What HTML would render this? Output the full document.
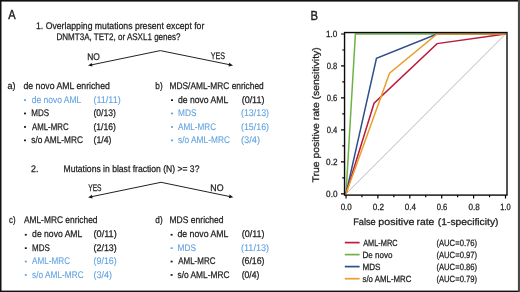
<!DOCTYPE html>
<html>
<head>
<meta charset="utf-8">
<style>
html,body{margin:0;padding:0;background:#fff;}
body{width:520px;height:292px;overflow:hidden;position:relative;}
svg{position:absolute;left:0;top:0;display:block;will-change:transform;}
text{font-family:"Liberation Sans", sans-serif;text-rendering:geometricPrecision;}
</style>
</head>
<body>
<svg width="520" height="292" viewBox="0 0 520 292">
<rect x="0" y="0" width="520" height="292" fill="#fff"/>
<g id="shapes">
<rect x="0" y="0" width="520" height="1.6" fill="#111"/>
<rect x="0" y="290.6" width="520" height="1.4" fill="#111"/>
<rect x="0" y="0" width="1.5" height="292" fill="#111"/>
<rect x="517.9" y="0" width="2.1" height="292" fill="#494949"/>
<polyline points="91.13,64.95 160.3,50.6 229.86,64.76" stroke="#222" stroke-width="1" fill="none"/>
<polygon points="88.00,65.60 91.73,62.89 92.50,66.61" fill="#1a1a1a"/>
<polygon points="233.00,65.40 228.51,66.42 229.26,62.70" fill="#1a1a1a"/>
<polyline points="91.23,196.75 161.0,182.3 230.17,196.65" stroke="#222" stroke-width="1" fill="none"/>
<polygon points="88.10,197.40 91.83,194.69 92.60,198.41" fill="#1a1a1a"/>
<polygon points="233.30,197.30 228.80,198.31 229.57,194.59" fill="#1a1a1a"/>
<rect x="24.00" y="99.30" width="2.0" height="1.7" fill="#62a3e0"/>
<rect x="24.00" y="112.60" width="2.0" height="1.7" fill="#1c1c1c"/>
<rect x="24.00" y="126.10" width="2.0" height="1.7" fill="#1c1c1c"/>
<rect x="24.00" y="139.50" width="2.0" height="1.7" fill="#1c1c1c"/>
<rect x="171.00" y="99.30" width="2.0" height="1.7" fill="#1c1c1c"/>
<rect x="171.00" y="112.60" width="2.0" height="1.7" fill="#62a3e0"/>
<rect x="171.00" y="126.10" width="2.0" height="1.7" fill="#62a3e0"/>
<rect x="171.00" y="139.50" width="2.0" height="1.7" fill="#62a3e0"/>
<rect x="24.80" y="233.90" width="2.0" height="1.7" fill="#1c1c1c"/>
<rect x="24.80" y="247.30" width="2.0" height="1.7" fill="#1c1c1c"/>
<rect x="24.80" y="260.70" width="2.0" height="1.7" fill="#62a3e0"/>
<rect x="24.80" y="274.10" width="2.0" height="1.7" fill="#62a3e0"/>
<rect x="170.60" y="233.90" width="2.0" height="1.7" fill="#1c1c1c"/>
<rect x="170.60" y="247.30" width="2.0" height="1.7" fill="#62a3e0"/>
<rect x="170.60" y="260.70" width="2.0" height="1.7" fill="#1c1c1c"/>
<rect x="170.60" y="274.10" width="2.0" height="1.7" fill="#1c1c1c"/>
<g fill="none" stroke-width="1.5">
<line x1="346.0" y1="193.8" x2="505.5" y2="34.0" stroke="#b8b8b8" stroke-width="1"/>
<polyline points="346.00,193.80 355.41,34.00 505.50,34.00" stroke="#6bb344"/>
<polyline points="346.00,193.80 376.46,58.29 437.07,34.00 505.50,34.00" stroke="#2f4f8c"/>
<polyline points="346.00,193.80 374.07,103.19 437.07,43.59 505.50,34.00" stroke="#b81c3e"/>
<polyline points="346.00,193.80 389.54,73.15 437.07,34.00 505.50,34.00" stroke="#eb9f2a"/>
<rect x="344.55" y="32.55" width="162.45" height="162.55" stroke="#0a0a0a" stroke-width="1.4" fill="none"/>
<path d="M341.00,193.80H344.4 M342.30,177.82H344.4 M341.00,161.84H344.4 M342.30,145.86H344.4 M341.00,129.88H344.4 M342.30,113.90H344.4 M341.00,97.92H344.4 M342.30,81.94H344.4 M341.00,65.96H344.4 M342.30,49.98H344.4 M341.00,34.00H344.4 M346.00,195.1V198.50 M361.95,195.1V197.30 M377.90,195.1V198.50 M393.85,195.1V197.30 M409.80,195.1V198.50 M425.75,195.1V197.30 M441.70,195.1V198.50 M457.65,195.1V197.30 M473.60,195.1V198.50 M489.55,195.1V197.30 M505.50,195.1V198.50" stroke="#000" stroke-width="1.2" fill="none"/>
<g stroke-width="1.7">
<line x1="344.8" y1="242.6" x2="359.6" y2="242.6" stroke="#b81c3e"/>
<line x1="344.8" y1="254.6" x2="359.6" y2="254.6" stroke="#6bb344"/>
<line x1="344.8" y1="266.6" x2="359.6" y2="266.6" stroke="#2f4f8c"/>
<line x1="344.8" y1="278.7" x2="359.6" y2="278.7" stroke="#eb9f2a"/>
</g>
</g>
</g>
<g id="texts">
<text id="t_A" x="8.35" y="19.10" font-size="13" fill="#1c1c1c" stroke="#1c1c1c" stroke-width="0.4" textLength="7.37" lengthAdjust="spacingAndGlyphs">A</text>
<text id="t_l1" x="36.04" y="28.60" font-size="9.6" fill="#1c1c1c" stroke="#1c1c1c" stroke-width="0.25" textLength="168.30" lengthAdjust="spacingAndGlyphs">1. Overlapping mutations present except for</text>
<text id="t_l2" x="56.50" y="39.60" font-size="9.6" fill="#1c1c1c" stroke="#1c1c1c" stroke-width="0.25" textLength="124.00" lengthAdjust="spacingAndGlyphs">DNMT3A, TET2, or ASXL1 genes?</text>
<text id="t_no1" x="87.27" y="59.80" font-size="9.6" fill="#1c1c1c" stroke="#1c1c1c" stroke-width="0.25" textLength="12.61" lengthAdjust="spacingAndGlyphs">NO</text>
<text id="t_yes1" x="210.66" y="58.80" font-size="9.6" fill="#1c1c1c" stroke="#1c1c1c" stroke-width="0.25" textLength="14.30" lengthAdjust="spacingAndGlyphs">YES</text>
<text id="t_a" x="7.50" y="88.90" font-size="9.6" fill="#1c1c1c" stroke="#1c1c1c" stroke-width="0.25" textLength="8.00" lengthAdjust="spacingAndGlyphs">a)</text>
<text id="t_ah" x="23.50" y="88.90" font-size="9.6" fill="#1c1c1c" stroke="#1c1c1c" stroke-width="0.25" textLength="86.38" lengthAdjust="spacingAndGlyphs">de novo AML enriched</text>
<text id="t_a1" x="31.66" y="102.80" font-size="9.6" fill="#62a3e0" stroke="#62a3e0" stroke-width="0.1" textLength="49.68" lengthAdjust="spacingAndGlyphs">de novo AML</text>
<text id="t_a1n" x="93.50" y="102.80" font-size="9.6" fill="#62a3e0" stroke="#62a3e0" stroke-width="0.1" textLength="27.15" lengthAdjust="spacingAndGlyphs">(11/11)</text>
<text id="t_a2" x="31.27" y="116.10" font-size="9.6" fill="#1c1c1c" stroke="#1c1c1c" stroke-width="0.25" textLength="17.84" lengthAdjust="spacingAndGlyphs">MDS</text>
<text id="t_a2n" x="93.50" y="116.10" font-size="9.6" fill="#1c1c1c" stroke="#1c1c1c" stroke-width="0.25" textLength="22.38" lengthAdjust="spacingAndGlyphs">(0/13)</text>
<text id="t_a3" x="31.97" y="129.60" font-size="9.6" fill="#1c1c1c" stroke="#1c1c1c" stroke-width="0.25" textLength="36.60" lengthAdjust="spacingAndGlyphs">AML-MRC</text>
<text id="t_a3n" x="93.50" y="129.60" font-size="9.6" fill="#1c1c1c" stroke="#1c1c1c" stroke-width="0.25" textLength="22.38" lengthAdjust="spacingAndGlyphs">(1/16)</text>
<text id="t_a4" x="31.27" y="143.00" font-size="9.6" fill="#1c1c1c" stroke="#1c1c1c" stroke-width="0.25" textLength="51.69" lengthAdjust="spacingAndGlyphs">s/o AML-MRC</text>
<text id="t_a4n" x="93.50" y="143.00" font-size="9.6" fill="#1c1c1c" stroke="#1c1c1c" stroke-width="0.25" textLength="17.92" lengthAdjust="spacingAndGlyphs">(1/4)</text>
<text id="t_b" x="155.35" y="88.90" font-size="9.6" fill="#1c1c1c" stroke="#1c1c1c" stroke-width="0.25" textLength="7.30" lengthAdjust="spacingAndGlyphs">b)</text>
<text id="t_bh" x="169.50" y="88.90" font-size="9.6" fill="#1c1c1c" stroke="#1c1c1c" stroke-width="0.25" textLength="94.22" lengthAdjust="spacingAndGlyphs">MDS/AML-MRC enriched</text>
<text id="t_b1" x="178.04" y="102.80" font-size="9.6" fill="#1c1c1c" stroke="#1c1c1c" stroke-width="0.25" textLength="50.22" lengthAdjust="spacingAndGlyphs">de novo AML</text>
<text id="t_b1n" x="241.66" y="102.80" font-size="9.6" fill="#1c1c1c" stroke="#1c1c1c" stroke-width="0.25" textLength="22.76" lengthAdjust="spacingAndGlyphs">(0/11)</text>
<text id="t_b2" x="178.04" y="116.10" font-size="9.6" fill="#62a3e0" stroke="#62a3e0" stroke-width="0.1" textLength="18.46" lengthAdjust="spacingAndGlyphs">MDS</text>
<text id="t_b2n" x="240.96" y="116.10" font-size="9.6" fill="#62a3e0" stroke="#62a3e0" stroke-width="0.1" textLength="28.08" lengthAdjust="spacingAndGlyphs">(13/13)</text>
<text id="t_b3" x="178.04" y="129.60" font-size="9.6" fill="#62a3e0" stroke="#62a3e0" stroke-width="0.1" textLength="38.00" lengthAdjust="spacingAndGlyphs">AML-MRC</text>
<text id="t_b3n" x="240.96" y="129.60" font-size="9.6" fill="#62a3e0" stroke="#62a3e0" stroke-width="0.1" textLength="28.08" lengthAdjust="spacingAndGlyphs">(15/16)</text>
<text id="t_b4" x="178.04" y="143.00" font-size="9.6" fill="#62a3e0" stroke="#62a3e0" stroke-width="0.1" textLength="51.92" lengthAdjust="spacingAndGlyphs">s/o AML-MRC</text>
<text id="t_b4n" x="240.96" y="143.00" font-size="9.6" fill="#62a3e0" stroke="#62a3e0" stroke-width="0.1" textLength="19.08" lengthAdjust="spacingAndGlyphs">(3/4)</text>
<text id="t_two" x="31.12" y="172.00" font-size="9.6" fill="#1c1c1c" stroke="#1c1c1c" stroke-width="0.25" textLength="7.38" lengthAdjust="spacingAndGlyphs">2.</text>
<text id="t_l3" x="63.50" y="172.00" font-size="9.6" fill="#1c1c1c" stroke="#1c1c1c" stroke-width="0.25" textLength="135.92" lengthAdjust="spacingAndGlyphs">Mutations in blast fraction (N) &gt;= 3?</text>
<text id="t_yes2" x="88.20" y="191.20" font-size="9.6" fill="#1c1c1c" stroke="#1c1c1c" stroke-width="0.25" textLength="13.37" lengthAdjust="spacingAndGlyphs">YES</text>
<text id="t_no2" x="210.27" y="190.50" font-size="9.6" fill="#1c1c1c" stroke="#1c1c1c" stroke-width="0.25" textLength="13.23" lengthAdjust="spacingAndGlyphs">NO</text>
<text id="t_c" x="8.97" y="223.30" font-size="9.6" fill="#1c1c1c" stroke="#1c1c1c" stroke-width="0.25" textLength="6.53" lengthAdjust="spacingAndGlyphs">c)</text>
<text id="t_ch" x="23.89" y="223.30" font-size="9.6" fill="#1c1c1c" stroke="#1c1c1c" stroke-width="0.25" textLength="73.61" lengthAdjust="spacingAndGlyphs">AML-MRC enriched</text>
<text id="t_c1" x="32.12" y="237.40" font-size="9.6" fill="#1c1c1c" stroke="#1c1c1c" stroke-width="0.25" textLength="50.22" lengthAdjust="spacingAndGlyphs">de novo AML</text>
<text id="t_c1n" x="93.50" y="237.40" font-size="9.6" fill="#1c1c1c" stroke="#1c1c1c" stroke-width="0.25" textLength="23.23" lengthAdjust="spacingAndGlyphs">(0/11)</text>
<text id="t_c2" x="32.12" y="250.80" font-size="9.6" fill="#1c1c1c" stroke="#1c1c1c" stroke-width="0.25" textLength="17.76" lengthAdjust="spacingAndGlyphs">MDS</text>
<text id="t_c2n" x="93.50" y="250.80" font-size="9.6" fill="#1c1c1c" stroke="#1c1c1c" stroke-width="0.25" textLength="23.23" lengthAdjust="spacingAndGlyphs">(2/13)</text>
<text id="t_c3" x="32.12" y="264.20" font-size="9.6" fill="#62a3e0" stroke="#62a3e0" stroke-width="0.1" textLength="38.00" lengthAdjust="spacingAndGlyphs">AML-MRC</text>
<text id="t_c3n" x="93.50" y="264.20" font-size="9.6" fill="#62a3e0" stroke="#62a3e0" stroke-width="0.1" textLength="23.23" lengthAdjust="spacingAndGlyphs">(9/16)</text>
<text id="t_c4" x="32.12" y="277.60" font-size="9.6" fill="#62a3e0" stroke="#62a3e0" stroke-width="0.1" textLength="51.61" lengthAdjust="spacingAndGlyphs">s/o AML-MRC</text>
<text id="t_c4n" x="93.50" y="277.60" font-size="9.6" fill="#62a3e0" stroke="#62a3e0" stroke-width="0.1" textLength="18.54" lengthAdjust="spacingAndGlyphs">(3/4)</text>
<text id="t_d" x="155.35" y="223.30" font-size="9.6" fill="#1c1c1c" stroke="#1c1c1c" stroke-width="0.25" textLength="7.30" lengthAdjust="spacingAndGlyphs">d)</text>
<text id="t_dh" x="169.50" y="223.30" font-size="9.6" fill="#1c1c1c" stroke="#1c1c1c" stroke-width="0.25" textLength="54.08" lengthAdjust="spacingAndGlyphs">MDS enriched</text>
<text id="t_d1" x="177.50" y="237.40" font-size="9.6" fill="#1c1c1c" stroke="#1c1c1c" stroke-width="0.25" textLength="50.92" lengthAdjust="spacingAndGlyphs">de novo AML</text>
<text id="t_d1n" x="241.66" y="237.40" font-size="9.6" fill="#1c1c1c" stroke="#1c1c1c" stroke-width="0.25" textLength="22.84" lengthAdjust="spacingAndGlyphs">(0/11)</text>
<text id="t_d2" x="177.50" y="250.80" font-size="9.6" fill="#62a3e0" stroke="#62a3e0" stroke-width="0.1" textLength="18.46" lengthAdjust="spacingAndGlyphs">MDS</text>
<text id="t_d2n" x="240.96" y="250.80" font-size="9.6" fill="#62a3e0" stroke="#62a3e0" stroke-width="0.1" textLength="28.08" lengthAdjust="spacingAndGlyphs">(11/13)</text>
<text id="t_d3" x="178.20" y="264.20" font-size="9.6" fill="#1c1c1c" stroke="#1c1c1c" stroke-width="0.25" textLength="37.22" lengthAdjust="spacingAndGlyphs">AML-MRC</text>
<text id="t_d3n" x="241.66" y="264.20" font-size="9.6" fill="#1c1c1c" stroke="#1c1c1c" stroke-width="0.25" textLength="22.84" lengthAdjust="spacingAndGlyphs">(6/16)</text>
<text id="t_d4" x="177.50" y="277.60" font-size="9.6" fill="#1c1c1c" stroke="#1c1c1c" stroke-width="0.25" textLength="52.00" lengthAdjust="spacingAndGlyphs">s/o AML-MRC</text>
<text id="t_d4n" x="241.66" y="277.60" font-size="9.6" fill="#1c1c1c" stroke="#1c1c1c" stroke-width="0.25" textLength="17.68" lengthAdjust="spacingAndGlyphs">(0/4)</text>
<text id="t_B" x="310.50" y="19.60" font-size="13" fill="#1c1c1c" stroke="#1c1c1c" stroke-width="0.4" textLength="7.46" lengthAdjust="spacingAndGlyphs">B</text>
<text id="t_xt1" x="353.16" y="225.00" font-size="9.6" fill="#1c1c1c" stroke="#1c1c1c" stroke-width="0.25" textLength="22.51" lengthAdjust="spacingAndGlyphs">False</text>
<text id="t_xt2" x="378.35" y="225.00" font-size="9.6" fill="#1c1c1c" stroke="#1c1c1c" stroke-width="0.25" textLength="36.15" lengthAdjust="spacingAndGlyphs">positive</text>
<text id="t_xt3" x="416.52" y="225.00" font-size="9.6" fill="#1c1c1c" stroke="#1c1c1c" stroke-width="0.25" textLength="17.81" lengthAdjust="spacingAndGlyphs">rate</text>
<text id="t_xt4" x="437.84" y="225.00" font-size="9.6" fill="#1c1c1c" stroke="#1c1c1c" stroke-width="0.25" textLength="60.66" lengthAdjust="spacingAndGlyphs">(1-specificity)</text>
<text id="t_y10" x="325.96" y="37.40" font-size="9.0" fill="#1c1c1c" stroke="#1c1c1c" stroke-width="0.25" textLength="11.30" lengthAdjust="spacingAndGlyphs">1.0</text>
<text id="t_y08" x="326.74" y="69.20" font-size="9.0" fill="#1c1c1c" stroke="#1c1c1c" stroke-width="0.25" textLength="10.60" lengthAdjust="spacingAndGlyphs">0.8</text>
<text id="t_y06" x="326.74" y="101.20" font-size="9.0" fill="#1c1c1c" stroke="#1c1c1c" stroke-width="0.25" textLength="10.60" lengthAdjust="spacingAndGlyphs">0.6</text>
<text id="t_y04" x="326.74" y="133.10" font-size="9.0" fill="#1c1c1c" stroke="#1c1c1c" stroke-width="0.25" textLength="10.60" lengthAdjust="spacingAndGlyphs">0.4</text>
<text id="t_y02" x="326.12" y="164.60" font-size="9.0" fill="#1c1c1c" stroke="#1c1c1c" stroke-width="0.25" textLength="11.30" lengthAdjust="spacingAndGlyphs">0.2</text>
<text id="t_y00" x="326.12" y="196.50" font-size="9.0" fill="#1c1c1c" stroke="#1c1c1c" stroke-width="0.25" textLength="11.30" lengthAdjust="spacingAndGlyphs">0.0</text>
<text id="t_x00" x="340.66" y="210.40" font-size="9.0" fill="#1c1c1c" stroke="#1c1c1c" stroke-width="0.25" textLength="11.14" lengthAdjust="spacingAndGlyphs">0.0</text>
<text id="t_x02" x="372.66" y="210.40" font-size="9.0" fill="#1c1c1c" stroke="#1c1c1c" stroke-width="0.25" textLength="11.30" lengthAdjust="spacingAndGlyphs">0.2</text>
<text id="t_x04" x="404.74" y="210.40" font-size="9.0" fill="#1c1c1c" stroke="#1c1c1c" stroke-width="0.25" textLength="11.22" lengthAdjust="spacingAndGlyphs">0.4</text>
<text id="t_x06" x="436.74" y="210.40" font-size="9.0" fill="#1c1c1c" stroke="#1c1c1c" stroke-width="0.25" textLength="10.60" lengthAdjust="spacingAndGlyphs">0.6</text>
<text id="t_x08" x="468.43" y="210.40" font-size="9.0" fill="#1c1c1c" stroke="#1c1c1c" stroke-width="0.25" textLength="11.30" lengthAdjust="spacingAndGlyphs">0.8</text>
<text id="t_x10" x="500.35" y="210.40" font-size="9.0" fill="#1c1c1c" stroke="#1c1c1c" stroke-width="0.25" textLength="10.45" lengthAdjust="spacingAndGlyphs">1.0</text>
<text id="t_lg1" x="363.20" y="245.80" font-size="9" fill="#1c1c1c" stroke="#1c1c1c" stroke-width="0.25" textLength="34.37" lengthAdjust="spacingAndGlyphs">AML-MRC</text>
<text id="t_lg2" x="362.50" y="257.80" font-size="9" fill="#1c1c1c" stroke="#1c1c1c" stroke-width="0.25" textLength="30.00" lengthAdjust="spacingAndGlyphs">De novo</text>
<text id="t_lg3" x="362.50" y="269.80" font-size="9" fill="#1c1c1c" stroke="#1c1c1c" stroke-width="0.25" textLength="18.00" lengthAdjust="spacingAndGlyphs">MDS</text>
<text id="t_lg4" x="362.50" y="281.80" font-size="9" fill="#1c1c1c" stroke="#1c1c1c" stroke-width="0.25" textLength="49.00" lengthAdjust="spacingAndGlyphs">s/o AML-MRC</text>
<text id="t_au1" x="436.43" y="245.80" font-size="9" fill="#1c1c1c" stroke="#1c1c1c" stroke-width="0.25" textLength="40.68" lengthAdjust="spacingAndGlyphs">(AUC=0.76)</text>
<text id="t_au2" x="436.43" y="257.80" font-size="9" fill="#1c1c1c" stroke="#1c1c1c" stroke-width="0.25" textLength="40.68" lengthAdjust="spacingAndGlyphs">(AUC=0.97)</text>
<text id="t_au3" x="436.43" y="269.80" font-size="9" fill="#1c1c1c" stroke="#1c1c1c" stroke-width="0.25" textLength="40.68" lengthAdjust="spacingAndGlyphs">(AUC=0.86)</text>
<text id="t_au4" x="436.43" y="281.80" font-size="9" fill="#1c1c1c" stroke="#1c1c1c" stroke-width="0.25" textLength="40.68" lengthAdjust="spacingAndGlyphs">(AUC=0.79)</text>
<text id="t_yt" transform="translate(318.8,182.49) rotate(-90)" x="0" y="0" font-size="9.6" fill="#1c1c1c" stroke="#1c1c1c" stroke-width="0.25" textLength="135.22" lengthAdjust="spacingAndGlyphs">True positive rate (sensitivity)</text>
</g>
</svg>
</body>
</html>
